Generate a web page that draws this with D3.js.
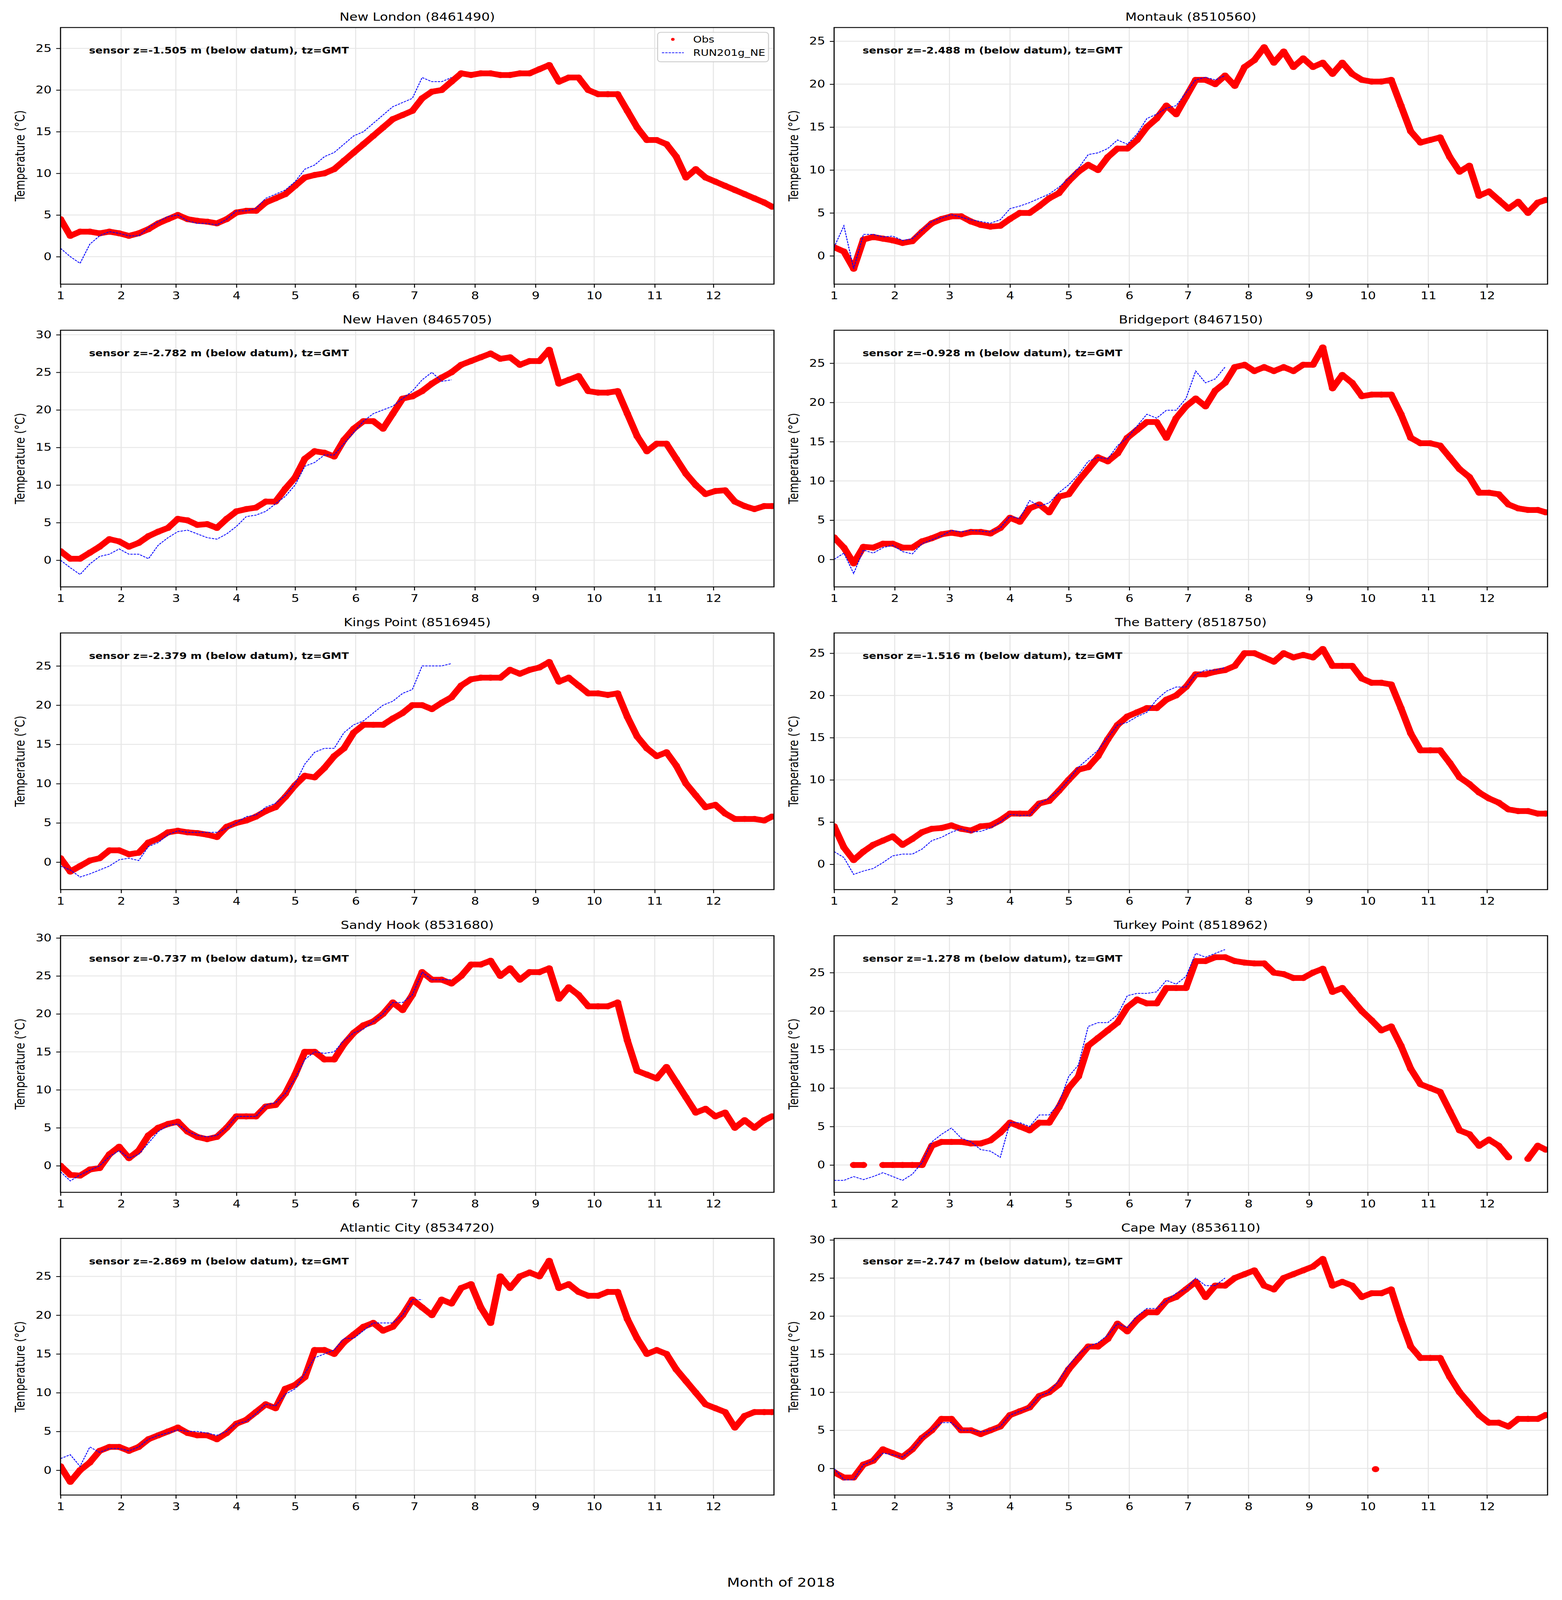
<!DOCTYPE html>
<html>
<head>
  <meta charset="utf-8">
  <script src="https://cdn.jsdelivr.net/npm/d3@7"></script>
  <style>
    html, body { margin: 0; padding: 0; background: #ffffff; overflow: hidden; }
    svg { display: block; }
    text { font-family: "DejaVu Sans", sans-serif; }
  </style>
</head>
<body>
  <div id="chart"></div>

  <script>
    // Day of year (0 = 1 Jan 2018) at which the values below were read
    var sampleDays = [0, 5, 10, 15, 20, 25, 30, 35, 40, 45, 50, 55, 60, 65, 70, 75, 80, 85, 90, 95,
                      100, 105, 110, 115, 120, 125, 130, 135, 140, 145, 150, 155, 160, 165, 170, 175,
                      180, 185, 190, 195, 200, 205, 210, 215, 220, 225, 230, 235, 240, 245, 250, 255,
                      260, 265, 270, 275, 280, 285, 290, 295, 300, 305, 310, 315, 320, 325, 330, 335,
                      340, 345, 350, 355, 360, 364];

    var monthLabels = ["1", "2", "3", "4", "5", "6", "7", "8", "9", "10", "11", "12"];

    var stations = ["New London (8461490)", "Montauk (8510560)", "New Haven (8465705)",
                    "Bridgeport (8467150)", "Kings Point (8516945)", "The Battery (8518750)",
                    "Sandy Hook (8531680)", "Turkey Point (8518962)", "Atlantic City (8534720)",
                    "Cape May (8536110)"];

    var sensorZ = ["-1.505", "-2.488", "-2.782", "-0.928", "-2.379", "-1.516",
                   "-0.737", "-1.278", "-2.869", "-2.747"];

    // y limits of each panel
    var yDomains = [[-3.3, 27.5], [-3.3, 26.6], [-3.55, 30.6], [-3.5, 29.2], [-3.5, 29.2],
                    [-3.0, 27.4], [-3.5, 30.3], [-3.55, 29.8], [-3.2, 29.9], [-3.5, 30.2]];
    var yTickMax = [25, 25, 30, 25, 25, 25, 30, 25, 25, 30];

    // Observed temperature (deg C), one value per sample day
    var obsNewLondon = [4.5, 2.5, 3.0, 3.0, 2.8, 3.0, 2.8, 2.5, 2.8, 3.3,
      4.0, 4.5, 5.0, 4.5, 4.3, 4.2, 4.0, 4.5, 5.3, 5.5,
      5.5, 6.5, 7.0, 7.5, 8.5, 9.5, 9.8, 10.0, 10.5, 11.5,
      12.5, 13.5, 14.5, 15.5, 16.5, 17.0, 17.5, 19.0, 19.8, 20.0,
      21.0, 22.0, 21.8, 22.0, 22.0, 21.8, 21.8, 22.0, 22.0, 22.5,
      23.0, 21.0, 21.5, 21.5, 20.0, 19.5, 19.5, 19.5, 17.5, 15.5,
      14.0, 14.0, 13.5, 12.0, 9.5, 10.5, 9.5, 9.0, 8.5, 8.0,
      7.5, 7.0, 6.5, 6.0];
    var obsMontauk = [1.0, 0.5, -1.5, 1.9, 2.2, 2.0, 1.8, 1.5, 1.7, 2.8,
      3.8, 4.3, 4.6, 4.6, 4.0, 3.6, 3.4, 3.5, 4.3, 5.0,
      5.0, 5.8, 6.7, 7.3, 8.7, 9.8, 10.6, 10.0, 11.5, 12.5,
      12.5, 13.5, 15.0, 16.0, 17.5, 16.5, 18.5, 20.5, 20.5, 20.0,
      21.0, 19.8, 22.0, 22.8, 24.3, 22.5, 23.8, 22.0, 23.0, 22.0,
      22.5, 21.2, 22.5, 21.2, 20.5, 20.3, 20.3, 20.5, 17.5, 14.5,
      13.2, 13.5, 13.8, 11.5, 9.8, 10.5, 7.0, 7.5, 6.5, 5.5,
      6.3, 5.0, 6.2, 6.5];
    var obsNewHaven = [1.2, 0.2, 0.2, 1.0, 1.8, 2.8, 2.5, 1.8, 2.3, 3.2,
      3.8, 4.3, 5.5, 5.3, 4.7, 4.8, 4.3, 5.5, 6.5, 6.8,
      7.0, 7.8, 7.8, 9.5, 11.0, 13.5, 14.5, 14.3, 13.8, 16.0,
      17.5, 18.5, 18.5, 17.5, 19.5, 21.5, 21.8, 22.5, 23.5, 24.3,
      25.0, 26.0, 26.5, 27.0, 27.5, 26.8, 27.0, 26.0, 26.5, 26.5,
      28.0, 23.5, 24.0, 24.5, 22.5, 22.3, 22.3, 22.5, 19.5, 16.5,
      14.5, 15.5, 15.5, 13.5, 11.5, 10.0, 8.8, 9.2, 9.3, 7.8,
      7.2, 6.8, 7.2, 7.2];
    var obsBridgeport = [2.8, 1.5, -0.5, 1.6, 1.5, 2.0, 2.0, 1.5, 1.5, 2.3,
      2.7, 3.2, 3.4, 3.2, 3.5, 3.5, 3.3, 4.0, 5.3, 4.8,
      6.5, 7.0, 6.0, 8.0, 8.3, 10.0, 11.5, 13.0, 12.5, 13.5,
      15.5, 16.5, 17.5, 17.5, 15.5, 18.0, 19.5, 20.5, 19.5, 21.5,
      22.5, 24.5, 24.8, 24.0, 24.5, 24.0, 24.5, 24.0, 24.8, 24.8,
      27.0, 21.8, 23.5, 22.5, 20.8, 21.0, 21.0, 21.0, 18.5, 15.5,
      14.8, 14.8, 14.5, 13.0, 11.5, 10.5, 8.5, 8.5, 8.3, 7.0,
      6.5, 6.3, 6.3, 6.0];
    var obsKingsPoint = [0.5, -1.2, -0.5, 0.2, 0.5, 1.5, 1.5, 1.0, 1.2, 2.5,
      3.0, 3.8, 4.0, 3.8, 3.7, 3.5, 3.2, 4.5, 5.0, 5.3,
      5.8, 6.5, 7.0, 8.3, 9.8, 11.0, 10.8, 12.0, 13.5, 14.5,
      16.5, 17.5, 17.5, 17.5, 18.3, 19.0, 20.0, 20.0, 19.5, 20.3,
      21.0, 22.5, 23.3, 23.5, 23.5, 23.5, 24.5, 24.0, 24.5, 24.8,
      25.5, 23.0, 23.5, 22.5, 21.5, 21.5, 21.3, 21.5, 18.5, 16.0,
      14.5, 13.5, 14.0, 12.3, 10.0, 8.5, 7.0, 7.3, 6.2, 5.5,
      5.5, 5.5, 5.3, 5.8];
    var obsBattery = [4.5, 2.0, 0.5, 1.5, 2.3, 2.8, 3.3, 2.3, 3.0, 3.8,
      4.2, 4.3, 4.6, 4.2, 4.0, 4.5, 4.6, 5.2, 6.0, 6.0,
      6.0, 7.2, 7.5, 8.7, 10.0, 11.2, 11.5, 12.8, 14.8, 16.5,
      17.5, 18.0, 18.5, 18.5, 19.5, 20.0, 21.0, 22.5, 22.5, 22.8,
      23.0, 23.5, 25.0, 25.0, 24.5, 24.0, 25.0, 24.5, 24.8, 24.5,
      25.5, 23.5, 23.5, 23.5, 22.0, 21.5, 21.5, 21.3, 18.5, 15.5,
      13.5, 13.5, 13.5, 12.0, 10.3, 9.5, 8.5, 7.8, 7.3, 6.5,
      6.3, 6.3, 6.0, 6.0];
    var obsSandyHook = [0.0, -1.2, -1.3, -0.5, -0.3, 1.5, 2.5, 1.0, 2.0, 4.0,
      5.0, 5.5, 5.8, 4.5, 3.8, 3.5, 3.8, 5.0, 6.5, 6.5,
      6.5, 7.8, 8.0, 9.5, 12.0, 15.0, 15.0, 14.0, 14.0, 16.0,
      17.5, 18.5, 19.0, 20.0, 21.5, 20.5, 22.5, 25.5, 24.5, 24.5,
      24.0, 25.0, 26.5, 26.5, 27.0, 25.0, 26.0, 24.5, 25.5, 25.5,
      26.0, 22.0, 23.5, 22.5, 21.0, 21.0, 21.0, 21.5, 16.5, 12.5,
      12.0, 11.5, 13.0, 11.0, 9.0, 7.0, 7.5, 6.5, 7.0, 5.0,
      6.0, 5.0, 6.0, 6.5];
    var obsTurkeyPoint = [null, null, 0.0, 0.0, null, 0.0, 0.0, 0.0, 0.0, 0.0,
      2.5, 3.0, 3.0, 3.0, 2.8, 2.8, 3.2, 4.2, 5.5, 5.0,
      4.5, 5.5, 5.5, 7.5, 10.0, 11.5, 15.5, 16.5, 17.5, 18.5,
      20.5, 21.5, 21.0, 21.0, 23.0, 23.0, 23.0, 26.5, 26.5, 27.0,
      27.0, 26.5, 26.3, 26.2, 26.2, 25.0, 24.8, 24.3, 24.3, 25.0,
      25.5, 22.5, 23.0, 21.5, 20.0, 18.8, 17.5, 18.0, 15.5, 12.5,
      10.5, 10.0, 9.5, 7.0, 4.5, 4.0, 2.5, 3.3, 2.5, 1.0,
      null, 0.8, 2.5, 2.0];
    var obsAtlanticCity = [0.5, -1.5, 0.0, 1.0, 2.5, 3.0, 3.0, 2.5, 3.0, 4.0,
      4.5, 5.0, 5.5, 4.8, 4.5, 4.5, 4.0, 4.8, 6.0, 6.5,
      7.5, 8.5, 8.0, 10.5, 11.0, 12.0, 15.5, 15.5, 15.0, 16.5,
      17.5, 18.5, 19.0, 18.0, 18.5, 20.0, 22.0, 21.0, 20.0, 22.0,
      21.5, 23.5, 24.0, 21.0, 19.0, 25.0, 23.5, 25.0, 25.5, 25.0,
      27.0, 23.5, 24.0, 23.0, 22.5, 22.5, 23.0, 23.0, 19.5, 17.0,
      15.0, 15.5, 15.0, 13.0, 11.5, 10.0, 8.5, 8.0, 7.5, 5.5,
      7.0, 7.5, 7.5, 7.5];
    var obsCapeMay = [-0.5, -1.2, -1.2, 0.5, 1.0, 2.5, 2.0, 1.5, 2.5, 4.0,
      5.0, 6.5, 6.5, 5.0, 5.0, 4.5, 5.0, 5.5, 7.0, 7.5,
      8.0, 9.5, 10.0, 11.0, 13.0, 14.5, 16.0, 16.0, 17.0, 19.0,
      18.0, 19.5, 20.5, 20.5, 22.0, 22.5, 23.5, 24.5, 22.5, 24.0,
      24.0, 25.0, 25.5, 26.0, 24.0, 23.5, 25.0, 25.5, 26.0, 26.5,
      27.5, 24.0, 24.5, 24.0, 22.5, 23.0, 23.0, 23.5, 19.5, 16.0,
      14.5, 14.5, 14.5, 12.0, 10.0, 8.5, 7.0, 6.0, 6.0, 5.5,
      6.5, 6.5, 6.5, 7.0];

    // Lone observations off the main record: [day of year, temperature]
    var obsLoneCapeMay = [[277, -0.1]];

    // RUN201g_NE model temperature, same sample days, record ends in July
    var modNewLondon = [1.0, 0.0, -0.8, 1.5, 2.5, 3.0, 2.8, 2.5, 2.5, 3.5,
      4.2, 4.8, 5.0, 4.3, 4.0, 4.0, 3.8, 4.5, 5.5, 5.5,
      5.8, 7.0, 7.5, 8.0, 9.0, 10.5, 11.0, 12.0, 12.5, 13.5,
      14.5, 15.0, 16.0, 17.0, 18.0, 18.5, 19.0, 21.5, 21.0, 21.0,
      21.5];
    var modMontauk = [1.0, 3.5, -1.5, 2.5, 2.5, 2.2, 2.3, 1.8, 2.0, 3.0,
      4.0, 4.4, 4.8, 4.5, 4.2, 4.0, 3.8, 4.2, 5.5, 5.8,
      6.2, 6.7, 7.2, 8.0, 9.0, 10.2, 11.8, 12.0, 12.5, 13.5,
      13.0, 14.2, 16.0, 16.5, 17.2, 17.5, 19.0, 20.5, 20.8, 20.5,
      21.0];
    var modNewHaven = [0.0, -1.0, -1.9, -0.5, 0.5, 0.8, 1.5, 0.8, 0.8, 0.2,
      2.0, 3.0, 3.8, 4.0, 3.5, 3.0, 2.8, 3.5, 4.5, 5.8,
      6.0, 6.5, 7.5, 8.5, 10.0, 12.5, 13.0, 14.0, 14.0, 15.5,
      17.0, 18.5, 19.5, 20.0, 20.5, 21.5, 22.5, 24.0, 25.0, 23.8,
      24.0];
    var modBridgeport = [0.0, 0.8, -1.8, 1.2, 0.8, 1.5, 1.8, 1.0, 0.7, 2.0,
      2.5, 3.0, 3.7, 3.5, 3.7, 3.6, 3.5, 4.0, 5.5, 5.2,
      7.5, 6.8, 7.2, 8.5, 9.5, 10.8, 12.5, 13.0, 12.8, 14.5,
      15.5, 17.0, 18.5, 18.0, 19.0, 19.0, 20.5, 24.0, 22.5, 23.0,
      24.5];
    var modKingsPoint = [-0.5, -1.0, -1.9, -1.5, -1.0, -0.5, 0.3, 0.5, 0.2, 2.0,
      2.5, 3.5, 4.0, 3.8, 3.8, 3.8, 3.8, 4.3, 5.0, 5.8,
      6.0, 7.0, 7.5, 8.5, 10.0, 12.5, 14.0, 14.5, 14.5, 16.5,
      17.5, 18.0, 19.0, 20.0, 20.5, 21.5, 22.0, 25.0, 25.0, 25.0,
      25.3];
    var modBattery = [1.5, 0.8, -1.2, -0.8, -0.5, 0.2, 1.0, 1.2, 1.2, 1.8,
      2.8, 3.2, 3.8, 4.2, 3.8, 3.9, 4.3, 5.0, 5.9, 5.8,
      5.8, 7.2, 7.8, 8.7, 10.0, 11.5, 12.5, 13.5, 15.0, 16.5,
      16.8, 17.5, 18.0, 19.5, 20.5, 21.0, 21.0, 22.5, 23.0, 23.0,
      23.3];
    var modSandyHook = [-0.8, -2.0, -1.2, -0.6, 0.0, 1.2, 2.0, 1.0, 1.5, 3.0,
      4.5, 5.3, 5.5, 4.5, 4.0, 3.8, 4.0, 5.0, 6.5, 6.5,
      6.5, 8.0, 8.3, 9.5, 11.5, 14.0, 15.0, 14.8, 15.0, 16.5,
      17.5, 18.0, 19.0, 20.0, 21.5, 21.5, 22.5, 25.5, 24.5, 24.5,
      24.5];
    var modTurkeyPoint = [-2.0, -2.0, -1.5, -1.9, -1.5, -1.0, -1.5, -2.0, -1.2, 0.3,
      3.0, 4.0, 4.8, 3.5, 3.0, 2.0, 1.8, 1.0, 5.5, 5.5,
      5.0, 6.5, 6.5, 8.0, 11.5, 13.0, 18.0, 18.5, 18.5, 19.5,
      22.0, 22.3, 22.3, 22.5, 24.0, 23.5, 24.5, 27.5, 27.0, 27.5,
      28.0];
    var modAtlanticCity = [1.5, 2.0, 0.5, 3.0, 2.3, 2.8, 2.8, 2.5, 3.0, 4.0,
      4.5, 4.8, 5.2, 5.0, 5.0, 4.8, 4.5, 5.0, 6.0, 6.3,
      7.3, 8.5, 8.3, 9.8, 10.5, 12.5, 14.5, 15.0, 15.5, 17.0,
      17.0, 18.0, 19.0, 19.0, 19.0, 20.0, 22.0, 22.0];
    var modCapeMay = [0.0, -1.5, -1.5, 0.5, 1.0, 2.0, 1.8, 1.5, 2.5, 4.0,
      5.0, 6.0, 6.0, 5.0, 5.0, 4.8, 5.0, 5.5, 7.0, 7.5,
      8.0, 9.5, 10.0, 11.5, 13.5, 15.0, 16.0, 16.5, 17.5, 19.0,
      18.5, 20.0, 21.0, 21.0, 22.0, 23.0, 23.5, 25.0, 24.0, 24.0,
      25.0];

    var obsSeries = [obsNewLondon, obsMontauk, obsNewHaven, obsBridgeport, obsKingsPoint,
                     obsBattery, obsSandyHook, obsTurkeyPoint, obsAtlanticCity, obsCapeMay];
    var obsLone = [[], [], [], [], [], [], [], [], [], obsLoneCapeMay];
    var modSeries = [modNewLondon, modMontauk, modNewHaven, modBridgeport, modKingsPoint,
                     modBattery, modSandyHook, modTurkeyPoint, modAtlanticCity, modCapeMay];

    // Figure is laid out on a 4000 x 5000 canvas, then fitted to the window
    var width = 4000, height = 5000;
    var colX = [155, 2136],
        axW = 1827,
        rowY0 = 86,
        rowStep = 946,
        axH = 802;

    var obsColour = "#ff0000",
        modColour = "#0000ff",
        gridColour = "#e6e6e6";

    var t0 = Date.UTC(2018, 0, 1);
    function dayToDate(d) { return new Date(t0 + d * 864e5); }

    var vw = window.innerWidth || width,
        vh = window.innerHeight || height;

    var svg = d3.select("#chart").append("svg")
        .attr("width", vw)
        .attr("height", vh)
        .attr("viewBox", "0 0 " + width + " " + height)
        .attr("preserveAspectRatio", "none")
        .style("background", "#ffffff");

    var monthTicks = d3.utcMonth.range(new Date(t0), new Date(Date.UTC(2019, 0, 1)));

    stations.forEach(function(name, i) {
        var ax = colX[i % 2],
            ay = rowY0 + rowStep * Math.floor(i / 2);

        var x = d3.scaleUtc()
            .domain([new Date(t0), new Date(Date.UTC(2019, 0, 1))])
            .range([0, axW]);
        var y = d3.scaleLinear()
            .domain(yDomains[i])
            .range([axH, 0]);
        var yTicks = d3.range(0, yTickMax[i] + 1, 5);

        var g = svg.append("g")
            .attr("transform", "translate(" + ax + "," + ay + ")");

        g.append("clipPath")
            .attr("id", "clip" + i)
          .append("rect")
            .attr("width", axW)
            .attr("height", axH);

        // Grid under everything
        g.append("g").selectAll("line")
            .data(monthTicks)
          .enter().append("line")
            .attr("x1", function(d) { return x(d); })
            .attr("x2", function(d) { return x(d); })
            .attr("y1", 0)
            .attr("y2", axH)
            .style("stroke", gridColour)
            .style("stroke-width", 2.7);
        g.append("g").selectAll("line")
            .data(yTicks)
          .enter().append("line")
            .attr("x1", 0)
            .attr("x2", axW)
            .attr("y1", function(d) { return y(d); })
            .attr("y2", function(d) { return y(d); })
            .style("stroke", gridColour)
            .style("stroke-width", 2.7);

        var plot = g.append("g").attr("clip-path", "url(#clip" + i + ")");

        // Observations: dense dots, drawn as a thick band plus the dots
        var obs = sampleDays.map(function(d, k) { return [dayToDate(d), obsSeries[i][k]]; });
        var line = d3.line()
            .defined(function(p) { return p[1] !== null; })
            .x(function(p) { return x(p[0]); })
            .y(function(p) { return y(p[1]); });

        plot.append("path")
            .datum(obs)
            .attr("d", line)
            .style("fill", "none")
            .style("stroke", obsColour)
            .style("stroke-width", 18)
            .style("stroke-linejoin", "round")
            .style("stroke-linecap", "round");

        plot.append("g").selectAll("circle")
            .data(obs.filter(function(p) { return p[1] !== null; })
                .concat(obsLone[i].map(function(p) { return [dayToDate(p[0]), p[1]]; })))
          .enter().append("circle")
            .attr("cx", function(p) { return x(p[0]); })
            .attr("cy", function(p) { return y(p[1]); })
            .attr("r", 9.5)
            .style("fill", obsColour);

        // Model line, dashed and thin
        var mod = modSeries[i].map(function(v, k) { return [dayToDate(sampleDays[k]), v]; });
        plot.append("path")
            .datum(mod)
            .attr("d", line)
            .style("fill", "none")
            .style("stroke", modColour)
            .style("stroke-width", 2.4)
            .style("stroke-dasharray", "6,2.6");

        // Axes
        var xAxis = d3.axisBottom(x)
            .tickValues(monthTicks)
            .tickFormat(function(d) { return monthLabels[d.getUTCMonth()]; })
            .tickSize(11)
            .tickSizeOuter(0)
            .tickPadding(13);
        var yAxis = d3.axisLeft(y)
            .tickValues(yTicks)
            .tickFormat(d3.format("d"))
            .tickSize(11)
            .tickSizeOuter(0)
            .tickPadding(12);

        var gx = g.append("g")
            .attr("transform", "translate(0," + axH + ")")
            .call(xAxis);
        var gy = g.append("g").call(yAxis);

        [gx, gy].forEach(function(a) {
            a.select(".domain").remove();
            a.selectAll(".tick line").style("stroke", "#000").style("stroke-width", 2.5);
            a.selectAll(".tick text")
                .style("font-family", "'DejaVu Sans', sans-serif")
                .style("font-size", "32px")
                .style("fill", "#000");
        });

        // Frame
        g.append("rect")
            .attr("width", axW)
            .attr("height", axH)
            .style("fill", "none")
            .style("stroke", "#000")
            .style("stroke-width", 2.8);

        // Title, label, sensor note
        g.append("text")
            .attr("x", axW / 2)
            .attr("y", -21)
            .attr("text-anchor", "middle")
            .style("font-size", "34px")
            .text(name);

        g.append("text")
            .attr("transform", "translate(-92," + (axH / 2) + ") rotate(-90)")
            .attr("text-anchor", "middle")
            .style("font-size", "33px")
            .text("Temperature (°C)");

        g.append("text")
            .attr("x", 73)
            .attr("y", 81)
            .style("font-size", "27.5px")
            .style("font-weight", "bold")
            .text("sensor z=" + sensorZ[i] + " m (below datum), tz=GMT");

        // Legend only in the first panel
        if (i === 0) {
            var lg = g.append("g")
                .attr("transform", "translate(" + (axW - 298) + ",15)");
            lg.append("rect")
                .attr("width", 284)
                .attr("height", 92)
                .attr("rx", 8)
                .style("fill", "#ffffff")
                .style("fill-opacity", 0.8)
                .style("stroke", "#cccccc")
                .style("stroke-width", 2.5);
            lg.append("circle")
                .attr("cx", 39)
                .attr("cy", 22)
                .attr("r", 4.5)
                .style("fill", obsColour);
            lg.append("text")
                .attr("x", 91)
                .attr("y", 32)
                .style("font-size", "28px")
                .text("Obs");
            lg.append("line")
                .attr("x1", 11)
                .attr("x2", 67)
                .attr("y1", 64)
                .attr("y2", 64)
                .style("stroke", modColour)
                .style("stroke-width", 2)
                .style("stroke-dasharray", "6,2.6");
            lg.append("text")
                .attr("x", 91)
                .attr("y", 74)
                .style("font-size", "28px")
                .text("RUN201g_NE");
        }
    });

    // Shared x label
    svg.append("text")
        .attr("x", width / 2)
        .attr("y", 4958)
        .attr("text-anchor", "middle")
        .style("font-size", "38px")
        .text("Month of 2018");
  </script>
</body>
</html>
